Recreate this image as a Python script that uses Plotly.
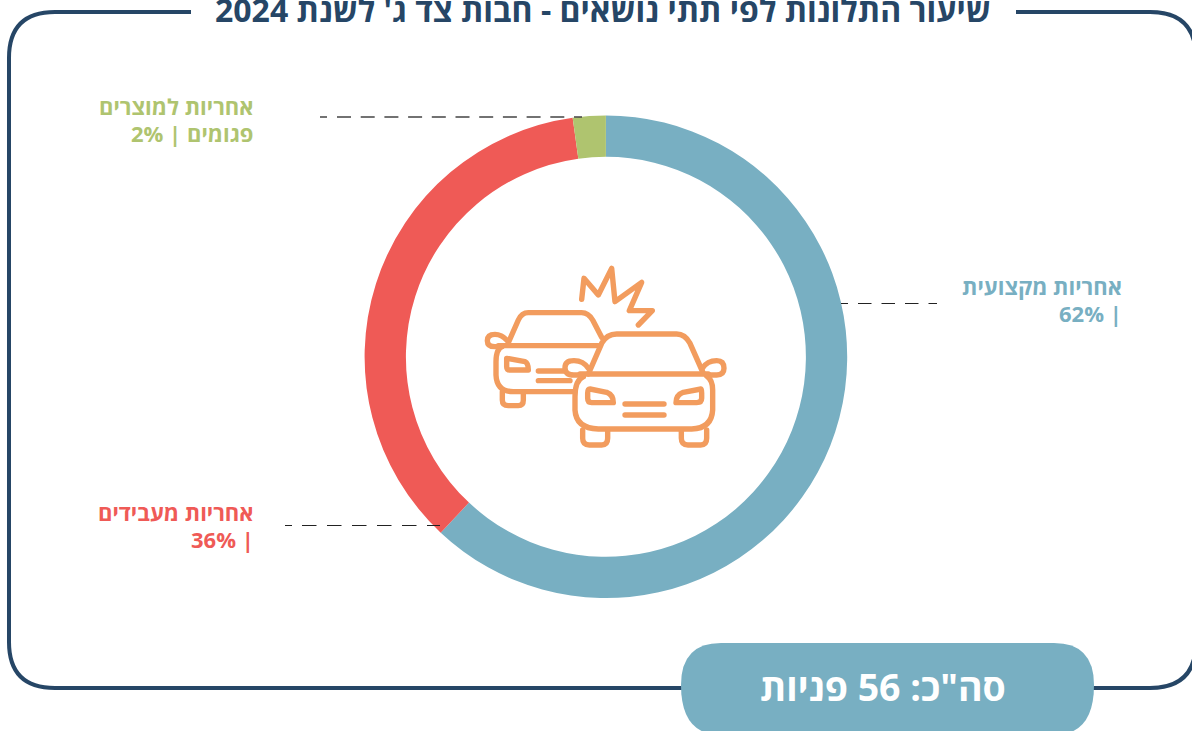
import re
import plotly.graph_objects as go

W, H = 1192, 731

# ---- data ----
categories = ["אחריות מקצועית", "אחריות מעבידים", "אחריות למוצרים פגומים"]
percent_labels = [62, 36, 2]
slice_values = [62, 35.8, 2.2]
colors = ["#78AFC2", "#EF5A56", "#AFC46F"]
title_text = "שיעור התלונות לפי תתי נושאים - חבות צד ג' לשנת 2024"
total_text = 'סה"כ: 56 פניות'

NAVY = "#264666"
ORANGE = "#F29C5E"
FONT = "Open Sans"

CX, CY, R = 605.9, 356.8, 241.3


def px(x):
    return x / W


def py(y):
    return 1 - y / H


def path_px(d, fn=lambda x, y: (x, y)):
    """Convert an absolute path given in pixel pairs to paper coordinates."""
    nums = iter(re.findall(r"[A-Za-z]|-?\d+\.?\d*", d))
    out = []
    for tok in nums:
        if tok.isalpha():
            out.append(tok)
        else:
            x, y = fn(float(tok), float(next(nums)))
            out.append(f"{px(x):.5f},{py(y):.5f}")
    return " ".join(out)


def icon_xy(x, y):
    return 470 + x / 3, 250 + y / 3


shapes = []

# frame with rounded corners (open behind the title)
frame = ("M191 12 L55 12 Q9 12 9 58 L9 642 Q9 688 55 688 L1150 688 "
         "Q1196 688 1196 642 L1196 58 Q1196 12 1150 12 L1016 12")
shapes.append(dict(type="path", xref="paper", yref="paper", path=path_px(frame),
                   line=dict(color=NAVY, width=4), layer="below"))

# total pill
pill = ("M721 643 L1054 643 Q1094 643 1094 685 Q1094 735 1054 735 L721 735 "
        "Q681 735 681 685 Q681 643 721 643 Z")
shapes.append(dict(type="path", xref="paper", yref="paper", path=path_px(pill),
                   fillcolor=colors[0], line=dict(width=0)))

# leader lines: lead stub, then the regular dashes
leaders = [
    (841, 848, 858, 937, 303.5, 13.5, 10, 1, "#222222"),
    (285, 292, 302, 440, 525.5, 14.5, 10.5, 1, "#222222"),
    (320, 327, 337, 582, 117, 14, 9.7, 1.5, "#444444"),
]
for (s0, s1, x0, x1, y, dash, gap, lw, col) in leaders:
    for a, b, d in [(s0, s1, "solid"), (x0, x1, f"{dash}px,{gap}px")]:
        shapes.append(dict(type="line", xref="paper", yref="paper",
                           x0=px(a), x1=px(b), y0=py(y), y1=py(y),
                           line=dict(color=col, width=lw, dash=d)))

# icon: rear car, burst, then front car on a white silhouette
icon_lines = [
    "M335 148 L342 85 L385 135 L425 55 L435 155 L515 97 L478 182 L547 182 L505 225",
    # rear car
    "M112 285 L145 210 Q155 188 175 188 L335 188 Q355 188 368 210 L395 262",
    "M85 287 L385 287",
    "M100 287 Q78 295 78 335 L78 375 Q80 425 130 425 L310 425",
    "M110 270 Q95 253 75 253 Q52 253 52 272 Q52 290 75 290 L95 290",
    "M97 425 L97 450 Q97 467 115 467 L145 467 Q160 467 160 450 L160 430",
    "M110 325 L165 335 Q175 340 175 360 L120 360 Q110 360 110 350 Z",
    "M205 363 L290 363",
    "M205 392 L300 392",
]
icon_front = [
    "M355 372 L395 280 Q410 252 440 252 L620 252 Q645 252 660 280 L700 370",
    "M355 355 Q340 332 312 332 Q285 332 285 353 Q285 375 312 375 L335 375",
    "M697 355 Q712 332 740 332 Q762 332 762 355 Q762 375 740 375 L715 375",
    "M330 372 L715 372",
    "M340 380 Q315 390 315 440 L315 480 Q318 535 385 537 L665 537 Q725 535 728 480 L728 420 Q728 390 710 378",
    "M338 540 L338 565 Q338 585 358 585 L395 585 Q413 585 413 565 L413 540",
    "M634 540 L634 565 Q634 585 654 585 L692 585 Q710 585 710 565 L710 540",
    "M360 417 L410 427 Q430 435 430 458 L365 458 Q353 458 353 445 L353 430 Q353 417 360 417 Z",
    "M693 417 L640 427 Q618 435 618 458 L680 458 Q695 458 695 445 L695 430 Q695 417 693 417 Z",
    "M465 462 L582 462",
    "M465 495 L582 495",
]
ICON_W = 5.4
for d in icon_lines:
    shapes.append(dict(type="path", xref="paper", yref="paper",
                       path=path_px(d, icon_xy), line=dict(color=ORANGE, width=ICON_W)))
for d in ["M355 372 L395 280 Q410 252 440 252 L620 252 Q645 252 660 280 L700 370 "
          "L728 420 L728 480 Q725 535 665 537 L385 537 Q318 535 315 480 L315 440 Z",
          "M355 355 Q340 332 312 332 Q285 332 285 353 Q285 375 312 375 L335 375 Z"]:
    shapes.append(dict(type="path", xref="paper", yref="paper",
                       path=path_px(d, icon_xy), fillcolor="white", line=dict(width=0)))
for d in icon_front:
    shapes.append(dict(type="path", xref="paper", yref="paper",
                       path=path_px(d, icon_xy), line=dict(color=ORANGE, width=ICON_W)))

# annotations
annotations = [
    dict(text=title_text, x=px(603), y=py(9), font=dict(size=32, color=NAVY, family=FONT, weight="bold")),
    dict(text=total_text, x=px(883), y=py(686), font=dict(size=37.5, color="white", family=FONT, weight="bold")),
]
RLM = "\u200f"
label_lines = [
    [categories[0], f"{RLM}| {percent_labels[0]}%"],
    [categories[1], f"{RLM}| {percent_labels[1]}%"],
    ["אחריות למוצרים", f"פגומים | {percent_labels[2]}%"],
]
label_pos = [(1122.5, 286), (254.5, 512), (254.5, 106)]
for lines, (x, y), c in zip(label_lines, label_pos, colors):
    for i, text in enumerate(lines):
        annotations.append(dict(text=text, x=px(x), y=py(y + 27 * i), xanchor="right",
                                font=dict(size=22, color=c, family=FONT, weight="bold")))
for a in annotations:
    a.update(xref="paper", yref="paper", showarrow=False, borderpad=0)
    a.setdefault("xanchor", "center")
    a.setdefault("yanchor", "middle")

pie = go.Pie(
    labels=categories, values=slice_values, hole=200 / 241.3, sort=False,
    direction="clockwise", rotation=0, textinfo="none", hoverinfo="label+percent",
    marker=dict(colors=colors, line=dict(width=0)), showlegend=False,
    domain=dict(x=[px(CX - R), px(CX + R)], y=[py(CY + R), py(CY - R)]),
)

fig = go.Figure(pie)
fig.update_layout(width=W, height=H, margin=dict(l=0, r=0, t=0, b=0),
                  paper_bgcolor="white", plot_bgcolor="white",
                  shapes=shapes, annotations=annotations,
                  font=dict(family=FONT))

post = (
    "document.body.style.margin='0';document.body.style.overflow='hidden';"
    "document.querySelectorAll('.shapelayer path').forEach(function(p){"
    "if(parseFloat(p.style.strokeWidth)===5.4){"
    "p.style.strokeLinecap='round';p.style.strokeLinejoin='round';}});"
)
fig.write_html("out.html", post_script=post, config=dict(displayModeBar=False))
